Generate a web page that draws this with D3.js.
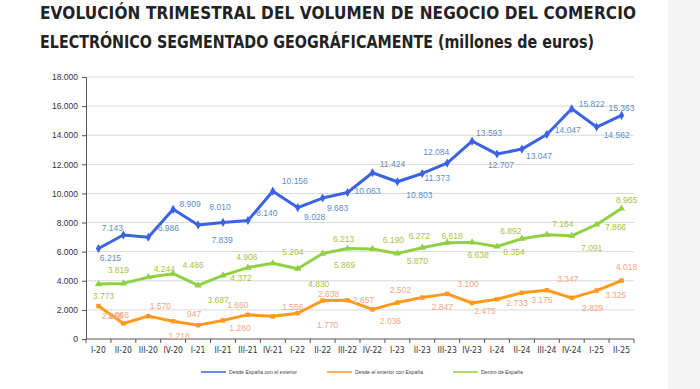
<!DOCTYPE html>
<html>
<head>
<meta charset="utf-8">
<script src="https://cdn.jsdelivr.net/npm/d3@7"></script>
<style>
  body { margin: 0; background: #fff; }
  svg { display: block; }
</style>
</head>
<body>
<svg></svg>
<script>
// Data (millones de euros)
const quarters = ["I-20", "II-20", "III-20", "IV-20", "I-21", "II-21", "III-21", "IV-21",
    "I-22", "II-22", "III-22", "IV-22", "I-23", "II-23", "III-23", "IV-23",
    "I-24", "II-24", "III-24", "IV-24", "I-25", "II-25"]

const desdeEspana = [6215, 7143, 6986, 8909, 7839, 8010, 8140, 10156, 9028, 9683, 10063,
    11424, 10803, 11373, 12084, 13593, 12707, 13047, 14047, 15822, 14562, 15363]
const desdeExterior = [2268, 1068, 1570, 1218, 947, 1280, 1660, 1556, 1770, 2638, 2657,
    2036, 2502, 2847, 3100, 2475, 2733, 3175, 3347, 2829, 3325, 4018]
const dentroEspana = [3773, 3819, 4244, 4486, 3687, 4372, 4906, 5204, 4830, 5869, 6213,
    6190, 5870, 6272, 6618, 6638, 6354, 6892, 7164, 7091, 7866, 8965]

const yTicks = [0, 2000, 4000, 6000, 8000, 10000, 12000, 14000, 16000, 18000]

// label nudges [dx, dy] relative to each point
const blueLabelOff = [[12, 9], [-11, -7], [20, -9], [17, -5], [24, 15], [-3, -15], [19, -7], [22, -10],
    [17, 9], [15, 10], [20, -2], [20, -9], [22, 13], [15, 5], [-11, -11], [17, -8],
    [4, 11], [17, 7], [21, -5], [20, -5], [20, 8], [0, -7]]
const orangeLabelOff = [[14, 10], [-5, -8], [12, -10], [6, 15], [-4, -11], [17, 8], [-10, -10], [20, -9],
    [30, 12], [6, -7], [16, 0], [18, 12], [3, -13], [20, 9], [21, -10], [13, 8],
    [20, 4], [20, 7], [21, -11], [21, 10], [19, 4], [5, -13]]
const greenLabelOff = [[5, 12], [-5, -13], [16, -8], [20, -9], [20, 15], [18, 3], [-1, -11], [20, -11],
    [21, 15], [22, 11], [-4, -10], [21, -9], [20, 7], [-3, -12], [5, -7], [6, 13],
    [17, 6], [-11, -8], [16, -11], [20, 12], [19, 3], [5, -8]]

const width = 700
const height = 389

const svg = d3.select("svg")
    .attr("width", width)
    .attr("height", height)

const es = d3.formatLocale({ decimal: ",", thousands: ".", grouping: [3], currency: ["", " €"] })
const fmt = es.format(",d")

// light strip on the right
svg.append("rect")
    .attr("x", 668).attr("y", 0)
    .attr("width", width - 668).attr("height", height)
    .attr("fill", "#f4f4f4")

// Title
const titleFont = "'Liberation Sans Narrow', 'Arial Narrow', 'DejaVu Sans Condensed', Arial, sans-serif"
svg.append("text")
    .attr("x", 40).attr("y", 19)
    .attr("font-family", titleFont)
    .attr("font-weight", "bold")
    .attr("font-size", "17px")
    .attr("fill", "#222")
    .attr("textLength", 596)
    .attr("lengthAdjust", "spacing")
    .text("EVOLUCIÓN TRIMESTRAL DEL VOLUMEN DE NEGOCIO DEL COMERCIO")
svg.append("text")
    .attr("x", 40).attr("y", 48)
    .attr("font-family", titleFont)
    .attr("font-weight", "bold")
    .attr("font-size", "17px")
    .attr("fill", "#222")
    .attr("textLength", 554)
    .attr("lengthAdjust", "spacingAndGlyphs")
    .text("ELECTRÓNICO SEGMENTADO GEOGRÁFICAMENTE (millones de euros)")

// Scales
const plot = { left: 86, right: 634, top: 77, bottom: 339 }
const xBand = d3.scaleBand().domain(quarters).range([plot.left, plot.right]).padding(0)
const xPos = d => xBand(d) + xBand.bandwidth() / 2
const yScale = d3.scaleLinear().domain([0, 18000]).range([plot.bottom, plot.top])

// Grid
svg.append("g")
    .selectAll("line")
    .data(yTicks.slice(1))
    .join("line")
    .attr("x1", plot.left).attr("x2", plot.right)
    .attr("y1", d => yScale(d)).attr("y2", d => yScale(d))
    .attr("stroke", "#d9d9d9")
    .attr("stroke-width", 1)

// Y axis
const yAxis = d3.axisLeft(yScale)
    .tickValues(yTicks)
    .tickFormat(fmt)
    .tickSize(4)
    .tickPadding(4)
const yAxisG = svg.append("g")
    .attr("transform", `translate(${plot.left}, 0)`)
    .call(yAxis)
yAxisG.selectAll("text")
    .attr("font-family", "Arial, 'Liberation Sans', sans-serif")
    .attr("font-size", "8.5px")
    .attr("fill", "#333")
yAxisG.selectAll("line, path").attr("stroke", "#555")

// X axis
const xAxisG = svg.append("g")
    .attr("transform", `translate(0, ${plot.bottom})`)
xAxisG.append("line")
    .attr("x1", plot.left).attr("x2", plot.right)
    .attr("stroke", "#555")
xAxisG.selectAll(".tk")
    .data(quarters.concat(["end"]))
    .join("line")
    .attr("class", "tk")
    .attr("x1", (d, i) => i < quarters.length ? xBand(d) : plot.right)
    .attr("x2", (d, i) => i < quarters.length ? xBand(d) : plot.right)
    .attr("y1", 0).attr("y2", 4)
    .attr("stroke", "#555")
xAxisG.selectAll(".lbl")
    .data(quarters)
    .join("text")
    .attr("class", "lbl")
    .attr("x", d => xPos(d))
    .attr("y", 14)
    .attr("text-anchor", "middle")
    .attr("font-family", "'Liberation Sans Narrow', 'DejaVu Sans Condensed', Arial, sans-serif")
    .attr("font-size", "8.5px")
    .attr("fill", "#333")
    .text(d => d)

// Series
const series = [
    { name: "Desde España con el exterior", values: desdeEspana, color: "#3b63e3", label: "#5b8fc9", symbol: d3.symbolDiamond, size: 24, off: blueLabelOff },
    { name: "Desde el exterior con España", values: desdeExterior, color: "#ff9a1f", label: "#f4a683", symbol: d3.symbolSquare, size: 20, off: orangeLabelOff },
    { name: "Dentro de España", values: dentroEspana, color: "#8fd143", label: "#a9c43c", symbol: d3.symbolTriangle, size: 22, off: greenLabelOff }
]

const lineGenerator = d3.line()
    .x((d, i) => xPos(quarters[i]))
    .y(d => yScale(d))

series.forEach(s => {
    const g = svg.append("g")
    g.append("path")
        .attr("d", lineGenerator(s.values))
        .attr("fill", "none")
        .attr("stroke", s.color)
        .attr("stroke-width", 3)
        .attr("stroke-linejoin", "round")

    g.selectAll(".mk")
        .data(s.values)
        .join("path")
        .attr("class", "mk")
        .attr("d", d3.symbol().type(s.symbol).size(s.size))
        .attr("transform", (d, i) => `translate(${xPos(quarters[i])}, ${yScale(d)})`)
        .attr("fill", s.color)

    g.selectAll(".vl")
        .data(s.values)
        .join("text")
        .attr("class", "vl")
        .attr("x", (d, i) => xPos(quarters[i]) + s.off[i][0])
        .attr("y", (d, i) => yScale(d) + s.off[i][1])
        .attr("dy", "0.35em")
        .attr("text-anchor", "middle")
        .attr("font-family", "Arial, 'Liberation Sans', sans-serif")
        .attr("font-size", "8.5px")
        .attr("fill", s.label)
        .text(d => fmt(d))
})

// Legend
const legendX = [201, 327, 453]
const legend = svg.append("g")
    .selectAll("g")
    .data(series)
    .join("g")
    .attr("transform", (d, i) => `translate(${legendX[i]}, 372)`)
legend.append("line")
    .attr("x1", 0).attr("x2", 25)
    .attr("stroke", d => d.color)
    .attr("stroke-width", 1.5)
legend.append("text")
    .attr("x", 28)
    .attr("dy", "0.35em")
    .attr("font-family", "Arial, 'Liberation Sans', sans-serif")
    .attr("font-size", "5.2px")
    .attr("fill", "#444")
    .text(d => d.name)
</script>
</body>
</html>
